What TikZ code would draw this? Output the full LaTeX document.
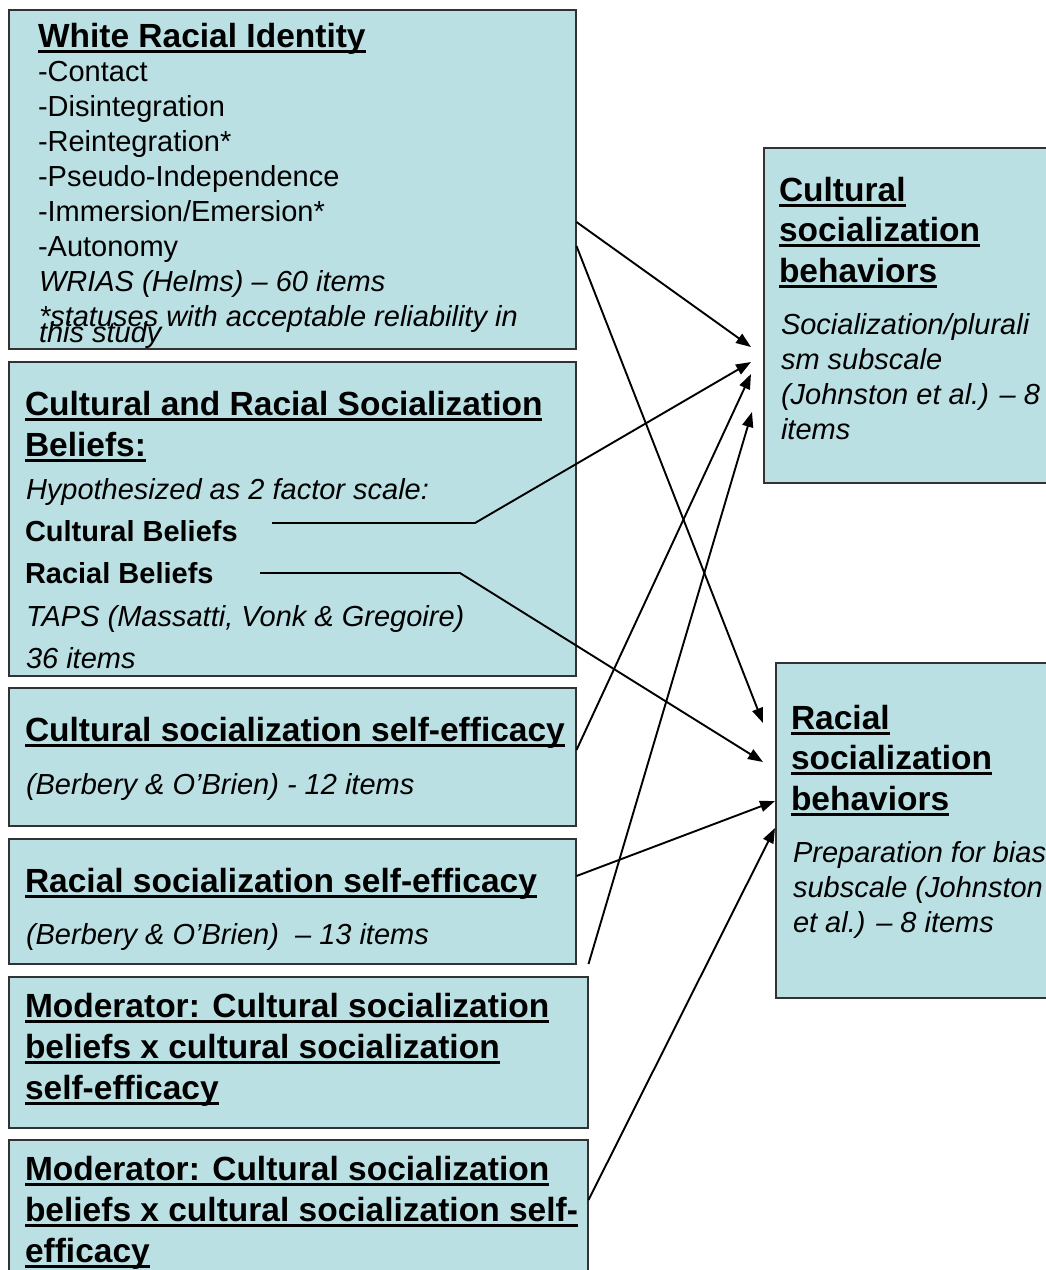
\documentclass[tikz,border=0pt]{standalone}
\usepackage{fontspec}
\setmainfont{Liberation Sans}
\usetikzlibrary{arrows.meta}
\definecolor{boxfill}{RGB}{187,224,227}
\definecolor{boxline}{RGB}{50,50,50}
\newcommand{\ulx}[1]{\setbox0=\hbox{#1}\rlap{\rule[-5.5pt]{\wd0}{3pt}}\box0}
\begin{document}
\begin{tikzpicture}[x=1pt,y=-1pt,
  box/.style={draw=boxline,line width=1.5pt,fill=boxfill,anchor=north west,inner sep=0pt},
  txt/.style={anchor=base west,inner sep=0pt,outer sep=0pt},
  ttl/.style={txt,font=\bfseries\fontsize{33.5}{40}\selectfont},
  bod/.style={txt,font=\fontsize{29}{35}\selectfont},
  itl/.style={txt,font=\itshape\fontsize{29}{35}\selectfont},
  bdb/.style={txt,font=\bfseries\fontsize{29}{35}\selectfont},
  arr/.style={line width=1.9pt,-{Triangle[length=15pt,width=11pt]}},
  ln/.style={line width=1.9pt}]
\useasboundingbox (0,0) rectangle (1046,1270);
\fill[white] (0,0) rectangle (1046,1270);
% boxes
\node[box,minimum width=567pt,minimum height=339pt] (wri) at (8,9) {};
\node[box,minimum width=567pt,minimum height=314pt] (crsb) at (8,361) {};
\node[box,minimum width=567pt,minimum height=138pt] (csse) at (8,687) {};
\node[box,minimum width=567pt,minimum height=125pt] (rsse) at (8,838) {};
\node[box,minimum width=579pt,minimum height=151pt] (mod1) at (8,976) {};
\node[box,minimum width=579pt,minimum height=150pt] (mod2) at (8,1139) {};
\node[box,minimum width=300pt,minimum height=335pt] (csb) at (763,147) {};
\node[box,minimum width=300pt,minimum height=335pt] (rsb) at (775,662) {};
% box 1 text
\node[ttl] (w0) at (38,47) {\ulx{White Racial Identity}};
\node[bod] (w1) at (38,81) {-Contact};
\node[bod] (w2) at (38,116) {-Disintegration};
\node[bod] (w3) at (38,151) {-Reintegration*};
\node[bod] (w4) at (38,186) {-Pseudo-Independence};
\node[bod] (w5) at (38,221) {-Immersion/Emersion*};
\node[bod] (w6) at (38,256) {-Autonomy};
\node[itl] (w7) at (39,291) {WRIAS (Helms) – 60 items};
\node[itl] (w8) at (39,326) {*statuses with acceptable reliability in};
\node[itl] (w9) at (39,342) {this study};
% box 2 text
\node[ttl] (c0) at (25,415) {\ulx{Cultural and Racial Socialization}};
\node[ttl] (c1) at (25,456) {\ulx{Beliefs:}};
\node[itl] (c2) at (26,499) {Hypothesized as 2 factor scale:};
\node[bdb] (c3) at (25,541) {Cultural Beliefs};
\node[bdb] (c4) at (25,583) {Racial Beliefs};
\node[itl] (c5) at (26,626) {TAPS (Massatti, Vonk \& Gregoire)};
\node[itl] (c6) at (26,668) {36 items};
% box 3 text
\node[ttl] (s0) at (25,741) {\ulx{Cultural socialization self-efficacy}};
\node[itl] (s1) at (26,794) {(Berbery \& O’Brien) - 12 items};
% box 4 text
\node[ttl] (r0) at (25,892) {\ulx{Racial socialization self-efficacy}};
\node[itl] (r1) at (26,944) {(Berbery \& O’Brien) \ – 13 items};
% box 5 text
\node[ttl] (m0) at (25,1017) {\ulx{Moderator: Cultural socialization}};
\node[ttl] (m1) at (25,1058) {\ulx{beliefs x cultural socialization}};
\node[ttl] (m2) at (25,1099) {\ulx{self-efficacy}};
% box 6 text
\node[ttl] (n0) at (25,1180) {\ulx{Moderator: Cultural socialization}};
\node[ttl] (n1) at (25,1221) {\ulx{beliefs x cultural socialization self-}};
\node[ttl] (n2) at (25,1262) {\ulx{efficacy}};
% right box A
\node[ttl] (a0) at (779,201) {\ulx{Cultural}};
\node[ttl] (a1) at (779,241) {\ulx{socialization}};
\node[ttl] (a2) at (779,282) {\ulx{behaviors}};
\node[itl] (a3) at (781,334) {Socialization/plurali};
\node[itl] (a4) at (781,369) {sm subscale};
\node[itl] (a5) at (781,404) {(Johnston et al.) – 8};
\node[itl] (a6) at (781,439) {items};
% right box B
\node[ttl] (b0) at (791,729) {\ulx{Racial}};
\node[ttl] (b1) at (791,769) {\ulx{socialization}};
\node[ttl] (b2) at (791,810) {\ulx{behaviors}};
\node[itl] (b3) at (793,862) {Preparation for bias};
\node[itl] (b4) at (793,897) {subscale (Johnston};
\node[itl] (b5) at (793,932) {et al.) – 8 items};
% arrow tips
\coordinate (ta1) at (751,347);
\coordinate (ta2) at (751,362);
\coordinate (ta3) at (751,374);
\coordinate (ta4) at (752,412);
\coordinate (tb1) at (763,723);
\coordinate (tb2) at (763,762);
\coordinate (tb3) at (775,801);
\coordinate (tb4) at (775,828);
% bends of belief lines
\coordinate (cbs) at (272,523);
\coordinate (cbk) at (475,523);
\coordinate (rbs) at (260,573);
\coordinate (rbk) at (460,573);
% connectors
\draw[arr] (wri.east |- 0,222) -- (ta1);
\draw[arr] (wri.east |- 0,246) -- (tb1);
\draw[arr] (cbs) -- (cbk) -- (ta2);
\draw[arr] (rbs) -- (rbk) -- (tb2);
\draw[arr] (csse.east |- 0,750) -- (ta3);
\draw[arr] (rsse.east |- 0,876) -- (tb3);
\draw[arr] (mod1.north east) ++(0,-12) -- (ta4);
\draw[arr] (mod2.east |- 0,1200) -- (tb4);
\end{tikzpicture}
\end{document}
